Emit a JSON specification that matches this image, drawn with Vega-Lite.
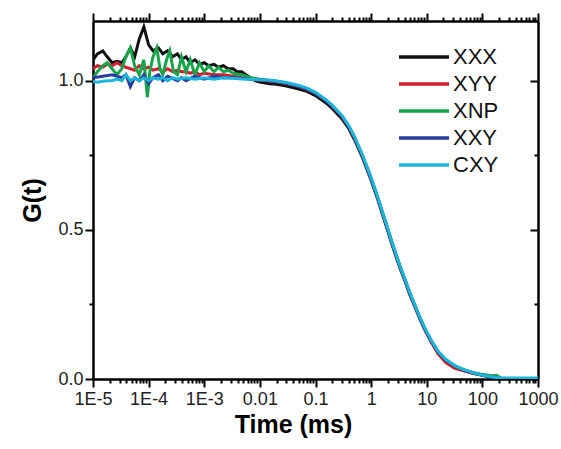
{
  "$schema": "https://vega.github.io/schema/vega-lite/v6.json",
  "width": 445,
  "height": 358,
  "autosize": {"type": "none"},
  "padding": {"left": 93, "top": 21, "right": 23, "bottom": 70},
  "background": "white",
  "config": {
    "view": {"stroke": null},
    "font": "Liberation Sans",
    "axis": {"grid": false, "domainColor": "#000", "domainWidth": 2.5, "tickColor": "#000", "tickWidth": 2, "labelFont": "Liberation Sans", "labelFontSize": 18, "labelColor": "#222", "titleFont": "Liberation Sans", "titleFontSize": 25, "titleFontWeight": "bold", "titleColor": "#000", "labelFlush": false, "labelOverlap": false}
  },
  "data": {"values": [
    {"s":"XXX","t":0.00001,"g":1.07},{"s":"XXX","t":0.000012,"g":1.09},{"s":"XXX","t":0.000015,"g":1.10},{"s":"XXX","t":0.000018,"g":1.08},{"s":"XXX","t":0.000022,"g":1.06},{"s":"XXX","t":0.000027,"g":1.065},{"s":"XXX","t":0.000033,"g":1.06},{"s":"XXX","t":0.000039,"g":1.08},{"s":"XXX","t":0.000047,"g":1.11},{"s":"XXX","t":0.000056,"g":1.08},{"s":"XXX","t":0.000068,"g":1.14},{"s":"XXX","t":0.000082,"g":1.18},{"s":"XXX","t":0.0001,"g":1.12},{"s":"XXX","t":0.00012,"g":1.10},{"s":"XXX","t":0.00015,"g":1.11},{"s":"XXX","t":0.00018,"g":1.09},{"s":"XXX","t":0.00022,"g":1.10},{"s":"XXX","t":0.00027,"g":1.08},{"s":"XXX","t":0.00033,"g":1.09},{"s":"XXX","t":0.00039,"g":1.07},{"s":"XXX","t":0.00047,"g":1.08},{"s":"XXX","t":0.00056,"g":1.06},{"s":"XXX","t":0.00068,"g":1.07},{"s":"XXX","t":0.00082,"g":1.055},{"s":"XXX","t":0.001,"g":1.06},{"s":"XXX","t":0.0012,"g":1.05},{"s":"XXX","t":0.0015,"g":1.055},{"s":"XXX","t":0.0018,"g":1.045},{"s":"XXX","t":0.0022,"g":1.05},{"s":"XXX","t":0.0027,"g":1.04},{"s":"XXX","t":0.0033,"g":1.04},{"s":"XXX","t":0.0039,"g":1.03},{"s":"XXX","t":0.0047,"g":1.03},{"s":"XXX","t":0.0056,"g":1.02},{"s":"XXX","t":0.0068,"g":1.01},{"s":"XXX","t":0.0082,"g":1.0},{"s":"XXX","t":0.01,"g":0.995},
    {"s":"XXX","t":0.015,"g":0.99},{"s":"XXX","t":0.02,"g":0.988},{"s":"XXX","t":0.03,"g":0.982},{"s":"XXX","t":0.05,"g":0.972},{"s":"XXX","t":0.07,"g":0.964},{"s":"XXX","t":0.1,"g":0.95},{"s":"XXX","t":0.15,"g":0.927},{"s":"XXX","t":0.2,"g":0.907},{"s":"XXX","t":0.3,"g":0.872},{"s":"XXX","t":0.4,"g":0.838},{"s":"XXX","t":0.5,"g":0.803},{"s":"XXX","t":0.7,"g":0.742},{"s":"XXX","t":1.0,"g":0.666},{"s":"XXX","t":1.3,"g":0.605},{"s":"XXX","t":1.8,"g":0.522},{"s":"XXX","t":2.5,"g":0.438},{"s":"XXX","t":3.3,"g":0.372},{"s":"XXX","t":4.1,"g":0.326},{"s":"XXX","t":5,"g":0.281},{"s":"XXX","t":6.2,"g":0.24},{"s":"XXX","t":7.5,"g":0.202},{"s":"XXX","t":9.4,"g":0.162},{"s":"XXX","t":12,"g":0.125},{"s":"XXX","t":16,"g":0.088},{"s":"XXX","t":22,"g":0.061},{"s":"XXX","t":32,"g":0.041},{"s":"XXX","t":45,"g":0.029},{"s":"XXX","t":66,"g":0.02},{"s":"XXX","t":90,"g":0.014},{"s":"XXX","t":113,"g":0.01},{"s":"XXX","t":150,"g":0.006},{"s":"XXX","t":210,"g":0.002},{"s":"XXX","t":300,"g":0.0},

    {"s":"XYY","t":0.00001,"g":1.04},{"s":"XYY","t":0.000012,"g":1.05},{"s":"XYY","t":0.000015,"g":1.045},{"s":"XYY","t":0.000018,"g":1.055},{"s":"XYY","t":0.000022,"g":1.05},{"s":"XYY","t":0.000027,"g":1.06},{"s":"XYY","t":0.000033,"g":1.05},{"s":"XYY","t":0.000039,"g":1.045},{"s":"XYY","t":0.000047,"g":1.04},{"s":"XYY","t":0.000056,"g":1.035},{"s":"XYY","t":0.000068,"g":1.05},{"s":"XYY","t":0.000082,"g":1.04},{"s":"XYY","t":0.0001,"g":1.045},{"s":"XYY","t":0.00012,"g":1.035},{"s":"XYY","t":0.00015,"g":1.04},{"s":"XYY","t":0.00018,"g":1.03},{"s":"XYY","t":0.00022,"g":1.04},{"s":"XYY","t":0.00027,"g":1.03},{"s":"XYY","t":0.00033,"g":1.035},{"s":"XYY","t":0.00039,"g":1.03},{"s":"XYY","t":0.00047,"g":1.03},{"s":"XYY","t":0.00056,"g":1.025},{"s":"XYY","t":0.00068,"g":1.03},{"s":"XYY","t":0.00082,"g":1.02},{"s":"XYY","t":0.001,"g":1.025},{"s":"XYY","t":0.0015,"g":1.02},{"s":"XYY","t":0.0022,"g":1.02},{"s":"XYY","t":0.0033,"g":1.015},{"s":"XYY","t":0.0047,"g":1.01},{"s":"XYY","t":0.0068,"g":1.007},{"s":"XYY","t":0.01,"g":1.002},
    {"s":"XYY","t":0.015,"g":0.999},{"s":"XYY","t":0.02,"g":0.996},{"s":"XYY","t":0.03,"g":0.99},{"s":"XYY","t":0.05,"g":0.98},{"s":"XYY","t":0.07,"g":0.971},{"s":"XYY","t":0.1,"g":0.957},{"s":"XYY","t":0.15,"g":0.934},{"s":"XYY","t":0.2,"g":0.914},{"s":"XYY","t":0.3,"g":0.879},{"s":"XYY","t":0.4,"g":0.844},{"s":"XYY","t":0.5,"g":0.809},{"s":"XYY","t":0.7,"g":0.747},{"s":"XYY","t":1.0,"g":0.671},{"s":"XYY","t":1.3,"g":0.609},{"s":"XYY","t":1.8,"g":0.526},{"s":"XYY","t":2.5,"g":0.442},{"s":"XYY","t":3.3,"g":0.376},{"s":"XYY","t":4.1,"g":0.329},{"s":"XYY","t":5,"g":0.284},{"s":"XYY","t":6.2,"g":0.242},{"s":"XYY","t":7.5,"g":0.204},{"s":"XYY","t":9.4,"g":0.164},{"s":"XYY","t":12,"g":0.125},{"s":"XYY","t":16,"g":0.084},{"s":"XYY","t":22,"g":0.055},{"s":"XYY","t":32,"g":0.036},{"s":"XYY","t":45,"g":0.028},{"s":"XYY","t":66,"g":0.02},{"s":"XYY","t":90,"g":0.015},{"s":"XYY","t":113,"g":0.012},{"s":"XYY","t":150,"g":0.009},{"s":"XYY","t":210,"g":0.004},

    {"s":"XNP","t":0.00001,"g":1.01},{"s":"XNP","t":0.000012,"g":1.03},{"s":"XNP","t":0.000015,"g":1.05},{"s":"XNP","t":0.000018,"g":1.06},{"s":"XNP","t":0.000022,"g":1.04},{"s":"XNP","t":0.000027,"g":1.02},{"s":"XNP","t":0.000033,"g":1.04},{"s":"XNP","t":0.000039,"g":1.08},{"s":"XNP","t":0.000047,"g":1.11},{"s":"XNP","t":0.000056,"g":1.05},{"s":"XNP","t":0.000068,"g":1.02},{"s":"XNP","t":0.000082,"g":1.07},{"s":"XNP","t":0.000095,"g":0.945},{"s":"XNP","t":0.000105,"g":1.03},{"s":"XNP","t":0.00012,"g":1.08},{"s":"XNP","t":0.00014,"g":1.11},{"s":"XNP","t":0.00016,"g":1.04},{"s":"XNP","t":0.00018,"g":1.02},{"s":"XNP","t":0.00021,"g":1.07},{"s":"XNP","t":0.00024,"g":1.10},{"s":"XNP","t":0.00028,"g":1.03},{"s":"XNP","t":0.00033,"g":1.02},{"s":"XNP","t":0.00039,"g":1.08},{"s":"XNP","t":0.00047,"g":1.03},{"s":"XNP","t":0.00056,"g":1.07},{"s":"XNP","t":0.00068,"g":1.02},{"s":"XNP","t":0.00082,"g":1.06},{"s":"XNP","t":0.001,"g":1.03},{"s":"XNP","t":0.0012,"g":1.05},{"s":"XNP","t":0.0015,"g":1.03},{"s":"XNP","t":0.0018,"g":1.045},{"s":"XNP","t":0.0022,"g":1.03},{"s":"XNP","t":0.0027,"g":1.035},{"s":"XNP","t":0.0033,"g":1.025},{"s":"XNP","t":0.0047,"g":1.02},{"s":"XNP","t":0.0068,"g":1.01},{"s":"XNP","t":0.01,"g":1.005},
    {"s":"XNP","t":0.015,"g":1.001},{"s":"XNP","t":0.02,"g":0.998},{"s":"XNP","t":0.03,"g":0.992},{"s":"XNP","t":0.05,"g":0.982},{"s":"XNP","t":0.07,"g":0.973},{"s":"XNP","t":0.1,"g":0.959},{"s":"XNP","t":0.15,"g":0.936},{"s":"XNP","t":0.2,"g":0.916},{"s":"XNP","t":0.3,"g":0.881},{"s":"XNP","t":0.4,"g":0.846},{"s":"XNP","t":0.5,"g":0.811},{"s":"XNP","t":0.7,"g":0.749},{"s":"XNP","t":1.0,"g":0.673},{"s":"XNP","t":1.3,"g":0.611},{"s":"XNP","t":1.8,"g":0.528},{"s":"XNP","t":2.5,"g":0.444},{"s":"XNP","t":3.3,"g":0.378},{"s":"XNP","t":4.1,"g":0.331},{"s":"XNP","t":5,"g":0.286},{"s":"XNP","t":6.2,"g":0.244},{"s":"XNP","t":7.5,"g":0.206},{"s":"XNP","t":9.4,"g":0.166},{"s":"XNP","t":12,"g":0.129},{"s":"XNP","t":16,"g":0.091},{"s":"XNP","t":22,"g":0.064},{"s":"XNP","t":32,"g":0.044},{"s":"XNP","t":45,"g":0.032},{"s":"XNP","t":66,"g":0.022},{"s":"XNP","t":90,"g":0.017},{"s":"XNP","t":113,"g":0.014},{"s":"XNP","t":150,"g":0.01},{"s":"XNP","t":180,"g":0.012},{"s":"XNP","t":210,"g":0.005},

    {"s":"XXY","t":0.00001,"g":1.01},{"s":"XXY","t":0.000015,"g":1.015},{"s":"XXY","t":0.000022,"g":1.02},{"s":"XXY","t":0.000033,"g":1.01},{"s":"XXY","t":0.000039,"g":1.02},{"s":"XXY","t":0.000047,"g":0.98},{"s":"XXY","t":0.000056,"g":1.01},{"s":"XXY","t":0.000068,"g":1.0},{"s":"XXY","t":0.000082,"g":1.02},{"s":"XXY","t":0.0001,"g":0.99},{"s":"XXY","t":0.00012,"g":1.01},{"s":"XXY","t":0.00015,"g":1.02},{"s":"XXY","t":0.00018,"g":1.0},{"s":"XXY","t":0.00022,"g":1.015},{"s":"XXY","t":0.00033,"g":1.0},{"s":"XXY","t":0.00039,"g":1.01},{"s":"XXY","t":0.00047,"g":1.0},{"s":"XXY","t":0.00068,"g":1.015},{"s":"XXY","t":0.001,"g":1.005},{"s":"XXY","t":0.0015,"g":1.015},{"s":"XXY","t":0.0022,"g":1.01},{"s":"XXY","t":0.0033,"g":1.01},{"s":"XXY","t":0.0047,"g":1.008},{"s":"XXY","t":0.0068,"g":1.005},{"s":"XXY","t":0.01,"g":1.003},
    {"s":"XXY","t":0.015,"g":1.0},{"s":"XXY","t":0.02,"g":0.997},{"s":"XXY","t":0.03,"g":0.991},{"s":"XXY","t":0.05,"g":0.981},{"s":"XXY","t":0.07,"g":0.972},{"s":"XXY","t":0.1,"g":0.958},{"s":"XXY","t":0.15,"g":0.935},{"s":"XXY","t":0.2,"g":0.915},{"s":"XXY","t":0.3,"g":0.88},{"s":"XXY","t":0.4,"g":0.845},{"s":"XXY","t":0.5,"g":0.81},{"s":"XXY","t":0.7,"g":0.748},{"s":"XXY","t":1.0,"g":0.672},{"s":"XXY","t":1.3,"g":0.61},{"s":"XXY","t":1.8,"g":0.527},{"s":"XXY","t":2.5,"g":0.443},{"s":"XXY","t":3.3,"g":0.377},{"s":"XXY","t":4.1,"g":0.33},{"s":"XXY","t":5,"g":0.285},{"s":"XXY","t":6.2,"g":0.243},{"s":"XXY","t":7.5,"g":0.205},{"s":"XXY","t":9.4,"g":0.165},{"s":"XXY","t":12,"g":0.128},{"s":"XXY","t":16,"g":0.09},{"s":"XXY","t":22,"g":0.063},{"s":"XXY","t":32,"g":0.043},{"s":"XXY","t":45,"g":0.031},{"s":"XXY","t":66,"g":0.021},{"s":"XXY","t":90,"g":0.015},{"s":"XXY","t":113,"g":0.011},{"s":"XXY","t":150,"g":0.007},{"s":"XXY","t":210,"g":0.003},{"s":"XXY","t":300,"g":0.001},

    {"s":"CXY","t":0.00001,"g":0.997},{"s":"CXY","t":0.000012,"g":0.995},{"s":"CXY","t":0.000015,"g":0.998},{"s":"CXY","t":0.000018,"g":1.0},{"s":"CXY","t":0.000022,"g":1.0},{"s":"CXY","t":0.000027,"g":1.005},{"s":"CXY","t":0.000033,"g":1.0},{"s":"CXY","t":0.000039,"g":1.02},{"s":"CXY","t":0.000047,"g":1.0},{"s":"CXY","t":0.000056,"g":1.01},{"s":"CXY","t":0.000068,"g":1.0},{"s":"CXY","t":0.000082,"g":1.01},{"s":"CXY","t":0.0001,"g":1.0},{"s":"CXY","t":0.00012,"g":1.01},{"s":"CXY","t":0.00015,"g":1.005},{"s":"CXY","t":0.00018,"g":1.01},{"s":"CXY","t":0.00022,"g":1.0},{"s":"CXY","t":0.00027,"g":1.01},{"s":"CXY","t":0.00033,"g":1.005},{"s":"CXY","t":0.00047,"g":1.01},{"s":"CXY","t":0.00068,"g":1.005},{"s":"CXY","t":0.001,"g":1.01},{"s":"CXY","t":0.0015,"g":1.005},{"s":"CXY","t":0.0022,"g":1.01},{"s":"CXY","t":0.0033,"g":1.008},{"s":"CXY","t":0.0047,"g":1.006},{"s":"CXY","t":0.0068,"g":1.005},{"s":"CXY","t":0.01,"g":1.003},
    {"s":"CXY","t":0.015,"g":1.002},{"s":"CXY","t":0.02,"g":0.999},{"s":"CXY","t":0.03,"g":0.994},{"s":"CXY","t":0.05,"g":0.984},{"s":"CXY","t":0.07,"g":0.975},{"s":"CXY","t":0.1,"g":0.961},{"s":"CXY","t":0.15,"g":0.938},{"s":"CXY","t":0.2,"g":0.918},{"s":"CXY","t":0.3,"g":0.883},{"s":"CXY","t":0.4,"g":0.848},{"s":"CXY","t":0.5,"g":0.813},{"s":"CXY","t":0.7,"g":0.751},{"s":"CXY","t":1.0,"g":0.675},{"s":"CXY","t":1.3,"g":0.613},{"s":"CXY","t":1.8,"g":0.53},{"s":"CXY","t":2.5,"g":0.446},{"s":"CXY","t":3.3,"g":0.38},{"s":"CXY","t":4.1,"g":0.333},{"s":"CXY","t":5,"g":0.288},{"s":"CXY","t":6.2,"g":0.246},{"s":"CXY","t":7.5,"g":0.208},{"s":"CXY","t":9.4,"g":0.168},{"s":"CXY","t":12,"g":0.131},{"s":"CXY","t":16,"g":0.093},{"s":"CXY","t":22,"g":0.066},{"s":"CXY","t":32,"g":0.045},{"s":"CXY","t":45,"g":0.032},{"s":"CXY","t":66,"g":0.022},{"s":"CXY","t":90,"g":0.015},{"s":"CXY","t":113,"g":0.011},{"s":"CXY","t":150,"g":0.007},{"s":"CXY","t":210,"g":0.004},{"s":"CXY","t":300,"g":0.003},{"s":"CXY","t":500,"g":0.003},{"s":"CXY","t":1000,"g":0.003}
  ]},
  "resolve": {"axis": {"x": "independent", "y": "independent"}},
  "layer": [
    {
      "mark": {"type": "line", "strokeWidth": 3, "clip": true},
      "encoding": {
        "x": {"field": "t", "type": "quantitative",
          "scale": {"type": "log", "domain": [0.00001, 1000], "nice": false},
          "axis": {"orient": "bottom", "title": "Time (ms)", "titlePadding": 4, "titleX": 200,
            "values": [0.00001,0.00002,0.00003,0.00004,0.00005,0.00006,0.00007,0.00008,0.00009,0.0001,0.0002,0.0003,0.0004,0.0005,0.0006,0.0007,0.0008,0.0009,0.001,0.002,0.003,0.004,0.005,0.006,0.007,0.008,0.009,0.01,0.02,0.03,0.04,0.05,0.06,0.07,0.08,0.09,0.1,0.2,0.3,0.4,0.5,0.6,0.7,0.8,0.9,1,2,3,4,5,6,7,8,9,10,20,30,40,50,60,70,80,90,100,200,300,400,500,600,700,800,900,1000],
            "labelExpr": "abs(log(datum.value)/LN10 - round(log(datum.value)/LN10)) > 0.01 ? '' : (datum.value < 0.002 ? '1E' + round(log(datum.value)/LN10) : format(datum.value, '~g'))",
            "tickSize": {"condition": {"test": "abs(log(datum.value)/LN10 - round(log(datum.value)/LN10)) < 0.01", "value": 8}, "value": 4},
            "labelPadding": 3}},
        "y": {"field": "g", "type": "quantitative",
          "scale": {"domain": [0, 1.2], "nice": false, "zero": false},
          "axis": {"orient": "left", "title": "G(t)", "titlePadding": 12,
            "values": [0, 0.25, 0.5, 0.75, 1.0],
            "labelExpr": "(datum.value == 0.25 || datum.value == 0.75) ? '' : format(datum.value, '.1f')",
            "tickSize": {"condition": {"test": "datum.value == 0.25 || datum.value == 0.75", "value": 4}, "value": 8},
            "labelPadding": 2}},
        "color": {"field": "s", "type": "nominal",
          "scale": {"domain": ["XXX", "XYY", "XNP", "XXY", "CXY"], "range": ["#111111", "#d0202e", "#17a34a", "#2a3d9e", "#1cb5d9"]},
          "legend": {"orient": "none", "legendX": 304, "legendY": 24, "title": null, "symbolType": "M-1,0H4", "symbolSize": 400, "symbolStrokeWidth": 3.5, "symbolFillColor": "transparent", "labelFontSize": 22, "labelFont": "Liberation Sans", "labelColor": "#111", "rowPadding": 4, "labelOffset": 32}}
      }
    },
    {
      "mark": {"type": "line", "opacity": 0},
      "encoding": {
        "x": {"field": "t", "type": "quantitative",
          "axis": {"orient": "top", "title": null, "labels": false,
            "values": [0.00001,0.00002,0.00003,0.00004,0.00005,0.00006,0.00007,0.00008,0.00009,0.0001,0.0002,0.0003,0.0004,0.0005,0.0006,0.0007,0.0008,0.0009,0.001,0.002,0.003,0.004,0.005,0.006,0.007,0.008,0.009,0.01,0.02,0.03,0.04,0.05,0.06,0.07,0.08,0.09,0.1,0.2,0.3,0.4,0.5,0.6,0.7,0.8,0.9,1,2,3,4,5,6,7,8,9,10,20,30,40,50,60,70,80,90,100,200,300,400,500,600,700,800,900,1000],
            "tickSize": {"condition": {"test": "abs(log(datum.value)/LN10 - round(log(datum.value)/LN10)) < 0.01", "value": 8}, "value": 4}}},
        "y": {"field": "g", "type": "quantitative",
          "axis": {"orient": "right", "title": null, "labels": false,
            "values": [0, 0.25, 0.5, 0.75, 1.0],
            "tickSize": {"condition": {"test": "datum.value == 0.25 || datum.value == 0.75", "value": -4}, "value": -8}}}
      }
    }
  ]
}
